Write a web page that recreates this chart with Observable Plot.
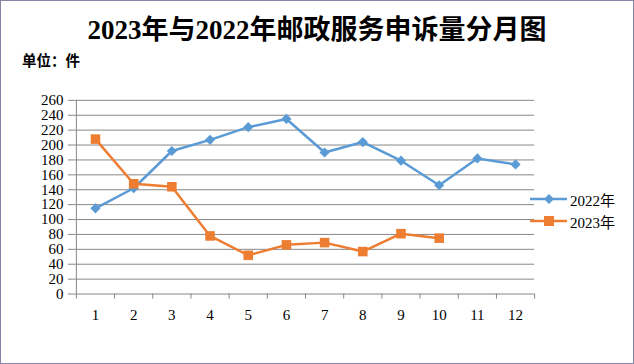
<!DOCTYPE html>
<html><head><meta charset="utf-8">
<script src="https://cdn.jsdelivr.net/npm/d3@7"></script>
<script src="https://cdn.jsdelivr.net/npm/@observablehq/plot@0.6"></script>
<style>
html,body{margin:0;padding:0;background:#fff;}
#wrap{position:relative;width:634px;height:364px;box-sizing:border-box;border:1px solid #8585a8;overflow:hidden;background:#fff;}
#title{position:absolute;left:0;right:0;top:13px;text-align:center;font-family:"Liberation Serif","Noto Sans CJK SC",serif;font-weight:bold;font-size:27px;line-height:32px;color:#000;white-space:nowrap;}
#unit{position:absolute;left:21px;top:50px;font-family:"Noto Sans CJK SC",sans-serif;font-weight:bold;font-size:14.5px;line-height:18px;color:#000;}
#chart{position:absolute;left:-1px;top:-1px;}
#legend{position:absolute;left:529px;top:187px;font-family:"Liberation Serif","Noto Sans CJK SC",serif;font-size:15px;color:#000;}
.row{display:flex;align-items:center;height:22px;}
.row svg{display:block;margin-right:2px;}
</style></head>
<body>
<div id="wrap">
  <div id="title">2023年与2022年邮政服务申诉量分月图</div>
  <div id="unit">单位：件</div>
  <div id="chart"></div>
  <div id="legend"></div>
</div>
<script>
const months = [1,2,3,4,5,6,7,8,9,10,11,12];
const monthLabels = ["1","2","3","4","5","6","7","8","9","10","11","12"];
const series2022 = [115,142,192,207,224,235,190,204,179,146,182,174];
const series2023 = [208,148,144,78,52,66,69,57,81,75];
const yTicks = [0,20,40,60,80,100,120,140,160,180,200,220,240,260];
const seriesNames = ["2022年","2023年"];
const colors = ["#5B9BD5","#ED7D31"];

const d2022 = series2022.map((v,i)=>({month:months[i], value:v}));
const d2023 = series2023.map((v,i)=>({month:months[i], value:v}));
const edges = [0.5, ...months.map(m=>m+0.5)];
const gray = "#878787";

const chart = Plot.plot({
  width: 634, height: 364,
  marginLeft: 76, marginRight: 99, marginTop: 100, marginBottom: 70,
  x: {domain:[0.5,12.5], label:null},
  y: {domain:[0,260], label:null},
  style: {fontFamily:"Liberation Serif, serif", fontSize:"15px", color:"#000", background:"transparent", overflow:"visible"},
  marks: [
    Plot.gridY(yTicks, {stroke:gray, strokeOpacity:1, strokeWidth:1}),
    Plot.ruleX([0.5], {stroke:gray, strokeWidth:1}),
    Plot.axisY(yTicks, {tickSize:8, tickPadding:5, stroke:gray, fill:"#000", tickFormat:d=>String(d), fontSize:15, label:null}),
    Plot.axisX(edges, {tickSize:5, tickPadding:0, stroke:gray, tickFormat:()=>"", label:null}),
    Plot.axisX(months, {tickSize:0, tickPadding:15, fill:"#000", tickFormat:d=>monthLabels[d-1], fontSize:15, label:null}),
    Plot.line(d2022, {x:"month", y:"value", stroke:colors[0], strokeWidth:2.5}),
    Plot.dot(d2022, {x:"month", y:"value", symbol:"diamond2", r:4.6, fill:colors[0], stroke:null}),
    Plot.line(d2023, {x:"month", y:"value", stroke:colors[1], strokeWidth:2.5}),
    Plot.dot(d2023, {x:"month", y:"value", symbol:"square", r:5.4, fill:colors[1], stroke:null})
  ]
});
document.getElementById("chart").appendChild(chart);

// legend
const leg = document.getElementById("legend");
seriesNames.forEach((name,i)=>{
  const row = document.createElement("div"); row.className="row";
  const ns="http://www.w3.org/2000/svg";
  const s=document.createElementNS(ns,"svg"); s.setAttribute("width",38); s.setAttribute("height",14);
  const l=document.createElementNS(ns,"line"); l.setAttribute("x1",0); l.setAttribute("x2",37); l.setAttribute("y1",7); l.setAttribute("y2",7);
  l.setAttribute("stroke",colors[i]); l.setAttribute("stroke-width",2.5); s.appendChild(l);
  const p=document.createElementNS(ns,"path");
  p.setAttribute("d", i===0 ? "M19,2L24,7L19,12L14,7Z" : "M14,2H24V12H14Z");
  p.setAttribute("fill",colors[i]); s.appendChild(p);
  row.appendChild(s);
  const t=document.createElement("span"); t.textContent=name; row.appendChild(t);
  leg.appendChild(row);
});
</script>
</body></html>
